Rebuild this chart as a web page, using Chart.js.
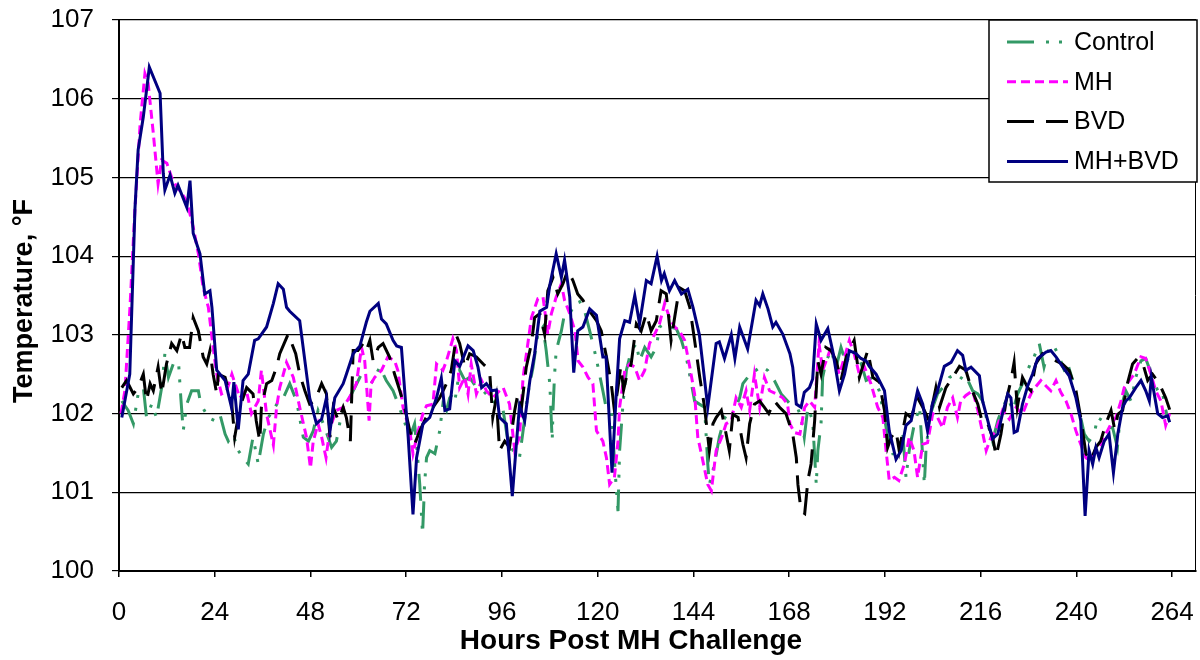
<!DOCTYPE html>
<html>
<head>
<meta charset="utf-8">
<script src="https://cdn.jsdelivr.net/npm/chart.js@4.4.1/dist/chart.umd.min.js"></script>
<style>
  html, body { margin: 0; padding: 0; background: #fff; }
  #wrap { width: 1200px; height: 660px; }
</style>
</head>
<body>
<div id="wrap"><canvas id="chart" width="1200" height="660"></canvas></div>
<script>
const xTicks = [0, 24, 48, 72, 96, 120, 144, 168, 192, 216, 240, 264];
const yTicks = [100, 101, 102, 103, 104, 105, 106, 107];
const xTitle = 'Hours Post MH Challenge';
const yTitle = 'Temperature, °F';

// Control
const controlHours = [0.7,2.3,3.6,4.8,6.1,6.9,8.2,9.4,10.7,11.5,12.4,13.6,14.9,15.5,16.1,17.0,18.2,19.9,20.5,22.4,24.0,25.3,26.6,27.4,28.6,29.9,31.1,32.4,33.6,34.9,36.2,37.4,38.7,40.0,41.2,42.8,44.5,46.2,47.5,48.7,49.9,51.6,53.3,54.5,55.8,57.0,58.7,60.4,62.0,63.2,65.4,67.0,68.7,70.0,71.2,72.9,74.1,74.6,75.4,76.1,76.6,77.1,77.9,79.2,80.4,81.2,82.1,82.9,83.7,84.2,85.4,86.7,87.9,89.6,91.3,92.9,94.6,96.3,97.5,98.8,100.4,101.3,102.5,103.8,105.0,106.3,107.1,108.0,108.6,108.8,109.2,109.6,110.9,111.7,113.0,114.3,115.5,116.7,118.0,119.2,120.1,121.3,122.1,123.4,124.6,125.1,125.5,126.4,127.2,128.4,129.7,130.5,131.8,133.4,134.7,135.5,136.8,138.0,139.7,141.0,142.2,143.5,144.3,145.5,146.8,147.6,148.0,149.3,150.5,151.8,153.0,154.3,155.6,156.4,157.6,158.5,159.7,161.0,162.6,164.3,166.0,167.6,168.9,170.2,171.0,171.8,172.7,173.9,174.8,175.2,176.0,176.4,177.3,178.5,179.8,181.0,182.3,183.5,184.8,186.1,187.3,189.0,190.6,191.9,192.7,194.0,195.2,196.5,197.3,198.1,199.4,200.7,201.5,201.9,202.3,203.2,204.0,205.2,206.5,208.2,209.8,211.5,212.3,214.0,215.3,216.5,217.8,219.0,220.3,221.5,222.8,224.1,225.3,226.5,227.8,228.6,229.4,230.7,231.9,233.2,234.4,235.7,237.0,238.2,239.5,240.7,242.0,243.2,244.5,245.3,246.6,247.8,249.1,250.3,251.2,252.4,253.7,254.9,256.2,257.4,259.1,260.4,261.5,262.8];
const controlTemps = [102.16,102.04,101.87,102.25,102.33,101.95,102.12,101.95,102.33,102.76,102.46,102.63,102.67,102.2,101.78,102.12,102.29,102.29,102.12,101.95,101.91,101.99,101.74,101.65,101.74,101.53,101.44,101.36,101.7,101.36,101.74,101.95,102.04,102.16,102.2,102.38,102.16,101.7,101.65,101.78,102.04,101.82,101.57,101.65,102.0,102.12,102.29,102.46,102.42,102.38,102.59,102.42,102.29,102.12,101.95,101.7,101.87,101.61,101.1,100.47,101.1,101.44,101.53,101.49,101.78,102.12,102.04,102.2,102.25,102.16,102.55,102.42,102.46,102.33,102.29,102.2,102.12,102.04,101.65,101.53,101.44,101.78,102.25,102.59,103.01,103.1,102.8,102.38,101.65,102.04,102.5,102.8,103.05,103.27,103.27,103.39,103.42,103.31,103.05,102.8,102.59,102.29,102.08,102.04,101.1,100.76,101.53,102.16,102.55,102.8,102.89,102.67,102.84,102.72,102.84,103.1,103.14,103.1,103.08,102.93,102.72,102.38,102.16,102.12,102.08,101.36,101.1,101.36,101.7,101.95,101.91,102.04,102.2,102.38,102.46,102.55,102.55,102.6,102.55,102.42,102.25,102.16,102.08,102.06,101.95,101.7,102.08,101.91,101.1,101.53,101.87,102.46,102.67,102.8,102.59,102.84,102.63,102.8,102.76,102.63,102.42,102.46,102.29,101.95,101.7,101.49,101.49,101.74,101.19,101.53,101.87,102.08,101.44,101.1,101.53,101.95,102.08,102.25,102.33,102.46,102.5,102.44,102.48,102.29,102.25,102.16,101.87,101.65,101.91,102.08,102.2,102.04,102.25,102.38,102.55,102.65,102.72,102.89,102.59,102.84,102.86,102.72,102.55,102.57,102.35,102.04,101.74,101.65,101.74,101.95,101.91,101.82,101.82,101.57,102.08,102.29,102.16,102.46,102.67,102.7,102.46,102.29,102.29,101.95];

// MH
const mhHours = [0.5,1.5,2.75,4.0,5.3,6.5,7.3,8.6,9.8,10.7,12.0,13.2,14.5,15.7,17.0,18.6,19.9,21.1,22.4,23.6,24.5,25.7,27.0,28.3,30.3,31.9,33.2,34.9,35.7,37.0,38.7,39.5,40.3,42.0,43.7,45.3,47.0,48.0,48.7,49.9,50.8,51.9,52.9,54.5,56.2,58.3,59.5,60.8,61.6,62.7,63.2,64.1,65.8,67.4,69.1,69.9,71.2,72.9,73.7,75.0,76.2,77.1,78.7,79.6,81.2,82.1,83.7,84.6,85.4,86.7,87.5,88.3,89.6,90.9,92.1,93.7,95.4,96.3,97.9,99.2,100.4,101.3,102.5,103.4,105.0,106.3,107.5,108.4,109.6,110.9,111.7,113.0,114.3,115.1,116.3,117.6,118.8,119.7,121.3,122.2,123.0,124.2,125.1,125.5,126.8,128.0,129.3,130.5,131.8,133.0,134.3,135.5,136.8,138.0,139.3,140.5,141.8,143.1,144.3,145.1,146.2,147.6,148.5,149.7,151.1,152.2,153.5,154.7,156.0,157.2,158.1,159.3,160.6,161.8,163.1,164.8,166.4,167.6,168.2,169.3,170.7,171.9,173.1,174.4,175.5,176.4,177.3,178.5,180.6,181.9,183.1,184.3,185.6,186.9,188.5,190.2,191.5,192.3,193.1,194.4,195.5,196.9,198.1,199.3,200.2,201.5,202.7,204.0,205.2,206.5,207.7,209.0,210.2,211.0,212.3,214.0,215.3,216.5,217.4,218.6,219.8,221.5,223.2,224.9,226.5,227.8,229.0,231.1,232.4,233.6,234.9,236.1,237.4,238.7,239.9,241.1,242.4,243.6,244.9,246.1,247.4,248.7,249.9,251.2,252.0,253.3,254.5,256.2,257.4,258.7,259.9,261.2,262.4,263.4];
const mhTemps = [102.0,102.3,103.35,104.6,105.68,106.32,106.2,105.56,104.92,105.22,105.18,105.0,104.88,104.8,104.7,104.37,104.03,103.6,103.35,102.84,102.5,102.25,102.29,102.5,102.2,102.3,102.0,102.16,102.55,101.99,101.6,102.08,102.33,102.65,102.46,102.08,101.7,101.31,101.65,101.87,101.7,101.44,101.82,102.04,102.08,102.25,102.38,102.84,102.67,101.91,102.38,102.46,102.55,102.72,102.67,102.55,102.08,101.78,101.49,101.78,102.0,102.1,102.12,102.63,102.55,102.67,102.95,102.8,102.33,102.46,102.25,102.63,102.25,102.42,102.29,102.2,102.29,102.33,102.12,101.53,101.7,102.46,102.89,103.22,103.46,103.48,103.01,103.27,103.48,103.65,103.44,103.27,103.05,102.67,102.59,102.46,102.38,101.78,101.65,101.44,101.1,101.19,101.65,102.08,102.55,102.63,102.59,102.42,102.55,102.89,103.01,103.14,103.4,103.22,103.1,103.05,102.93,102.59,102.25,101.7,101.44,101.1,101.02,101.53,101.7,101.87,101.91,102.2,102.08,102.29,102.04,102.5,102.08,102.46,102.29,102.25,102.2,102.12,101.87,101.76,101.74,102.08,102.16,102.08,102.89,102.55,102.67,102.84,102.5,102.72,102.93,102.76,102.5,102.59,102.38,102.08,101.95,101.53,101.15,101.19,101.15,101.36,101.7,101.53,101.19,101.61,101.63,102.0,101.95,101.82,102.08,102.2,101.95,102.16,102.23,102.29,102.04,101.76,101.53,101.7,101.78,102.04,101.93,102.08,101.99,102.16,102.29,102.42,102.35,102.29,102.42,102.27,102.16,101.99,101.78,101.61,101.44,101.4,101.55,101.61,101.74,101.87,101.95,102.16,102.33,102.42,102.5,102.72,102.7,102.5,102.29,102.16,101.85,102.0];

// BVD
const bvdHours = [0.7,1.9,3.6,4.8,6.1,6.9,7.8,8.6,9.8,10.7,11.9,13.2,14.5,15.7,16.5,17.7,18.6,19.9,21.1,22.0,22.8,23.6,24.5,24.9,26.6,28.2,29.0,30.3,32.0,33.6,34.4,35.3,35.7,37.0,38.3,39.5,40.3,42.4,44.3,45.3,46.6,47.8,49.1,50.8,52.0,52.9,53.7,55.0,56.2,57.0,58.0,58.7,59.9,61.2,62.0,62.9,63.7,65.0,66.2,67.8,69.1,70.4,71.6,72.9,74.1,75.4,77.0,78.7,80.4,82.1,83.3,84.6,85.4,86.7,87.9,89.6,91.3,92.9,93.7,94.6,95.4,96.7,97.9,99.2,100.0,100.9,102.1,103.4,104.2,105.5,106.7,107.5,108.8,110.0,111.3,112.5,113.8,115.0,116.3,118.0,119.7,120.9,122.2,123.4,124.2,125.0,125.8,126.5,127.2,128.4,129.7,130.9,132.2,133.4,134.7,135.9,137.2,138.4,139.3,140.5,141.8,143.1,144.3,145.6,146.8,148.0,148.9,149.7,151.0,152.2,153.0,153.9,155.2,156.4,157.2,158.1,159.3,160.6,161.8,162.9,164.3,165.6,167.2,168.9,169.8,170.2,171.0,171.9,172.7,173.5,174.4,175.2,176.0,177.2,178.5,179.8,181.0,182.3,184.3,185.6,187.7,189.0,190.6,191.9,192.7,193.6,194.8,195.6,197.3,198.6,200.2,201.5,203.1,204.8,205.7,207.3,209.0,210.7,212.3,213.6,215.3,216.5,217.8,219.0,219.9,221.1,222.4,223.6,224.4,225.2,226.5,227.8,228.6,229.8,231.5,233.2,234.9,236.5,238.2,239.9,241.1,242.4,243.6,244.9,246.1,247.4,248.7,249.6,250.4,251.6,252.8,254.1,255.3,256.6,257.9,259.1,260.8,262.4,263.4];
const bvdTemps = [102.33,102.42,102.25,102.33,102.5,102.16,102.38,102.29,102.59,102.25,102.63,102.89,102.8,103.01,102.84,102.84,103.22,103.05,102.72,102.63,102.8,102.5,102.25,102.5,102.46,102.16,101.7,102.08,102.33,102.25,101.91,101.65,102.08,102.38,102.42,102.59,102.76,103.01,102.76,102.5,102.29,102.12,102.16,102.38,102.25,101.7,102.08,101.91,102.08,101.95,101.65,102.8,102.8,102.89,102.8,102.93,102.67,102.84,102.89,102.72,102.5,102.29,102.08,101.78,101.61,101.78,101.95,102.08,102.2,102.38,102.55,102.99,102.89,102.59,102.76,102.72,102.63,102.55,101.95,102.2,101.53,101.65,101.57,102.04,102.25,102.08,102.59,102.89,103.22,103.27,103.01,103.56,103.73,103.52,103.65,103.82,103.69,103.52,103.44,103.3,103.18,103.05,102.72,102.38,102.04,102.3,102.6,102.3,102.46,102.63,103.14,103.05,103.27,103.05,103.18,103.56,103.52,102.93,103.22,103.6,103.56,103.35,102.93,102.46,102.08,101.53,101.87,101.95,102.04,101.74,101.53,101.99,101.95,101.61,101.44,101.87,102.12,102.16,102.08,102.0,102.16,102.08,102.0,101.74,101.44,101.1,100.76,100.73,101.15,101.36,101.91,102.67,102.5,102.84,102.8,102.67,102.42,102.72,102.93,102.46,102.8,102.46,102.4,102.04,101.57,101.7,101.78,101.53,102.0,101.95,102.2,102.08,101.91,102.33,102.08,102.33,102.46,102.6,102.55,102.33,102.12,101.87,101.87,101.7,101.46,101.74,102.16,102.42,102.65,102.08,102.46,102.33,102.29,102.63,102.76,102.72,102.67,102.63,102.55,102.29,101.95,101.49,101.4,101.57,101.65,101.87,102.04,101.8,101.99,102.04,102.38,102.63,102.7,102.65,102.42,102.5,102.38,102.2,102.05];

// MH+BVD
const mhbvdHours = [0.7,2.7,4.0,4.8,6.1,7.6,10.3,11.1,11.5,12.8,14.0,14.8,17.0,17.8,18.6,20.3,21.5,22.8,23.3,24.5,26.6,28.2,28.8,29.9,31.1,32.4,34.0,34.9,37.0,38.7,39.9,41.2,42.0,42.8,45.3,47.8,49.5,50.8,52.0,52.9,54.1,56.2,57.0,58.7,60.4,62.0,62.9,65.0,65.8,67.0,68.7,69.6,70.8,72.5,73.7,74.6,76.2,77.9,79.6,80.8,81.7,82.9,84.2,85.4,87.5,88.8,90.0,90.9,92.1,93.4,94.6,95.4,97.1,98.6,99.6,100.4,101.7,103.0,104.2,105.5,107.2,108.0,109.6,110.9,111.7,113.0,114.0,115.0,116.3,118.0,119.7,121.3,122.1,123.6,124.6,125.5,126.8,128.0,129.3,130.5,132.2,133.4,134.9,136.0,136.7,138.0,139.3,141.0,142.6,143.9,145.5,147.6,149.7,150.5,151.8,153.5,154.4,155.6,157.6,159.7,160.6,161.4,162.7,163.9,164.7,166.4,168.2,168.9,169.8,171.0,171.8,173.1,173.9,174.8,176.0,177.7,178.9,180.6,181.9,183.1,184.8,186.0,187.3,188.1,189.8,191.9,193.1,194.8,196.1,197.3,198.6,200.2,201.5,202.7,203.9,205.2,206.9,208.6,210.2,211.5,212.3,213.6,215.7,216.5,217.8,219.0,220.3,221.5,222.8,223.6,224.4,225.2,226.5,227.8,229.0,230.3,232.4,233.6,234.9,236.5,238.2,239.9,241.1,242.2,243.2,244.1,244.9,245.7,247.0,248.2,249.3,250.4,251.6,252.4,253.3,254.9,256.2,257.4,258.3,258.8,260.4,261.6,262.9,263.4];
const mhbvdTemps = [101.95,102.5,104.6,105.35,105.77,106.4,106.07,105.05,104.84,105.03,104.8,104.9,104.62,104.96,104.29,104.03,103.52,103.56,103.35,102.55,102.42,102.08,102.4,101.8,102.42,102.5,102.93,102.95,103.1,103.4,103.65,103.58,103.35,103.3,103.18,102.2,101.87,101.93,102.2,101.78,102.2,102.38,102.5,102.76,102.86,103.16,103.3,103.4,103.2,103.14,102.93,102.86,102.84,101.7,100.72,101.44,101.87,101.95,102.2,102.45,102.04,102.06,102.67,102.6,102.86,102.8,102.59,102.33,102.38,102.29,102.3,101.95,101.87,100.95,101.6,102.1,101.91,102.42,102.76,103.3,103.35,103.63,104.03,103.73,103.95,103.48,102.52,103.05,103.1,103.33,103.25,102.72,102.72,101.25,102.2,102.95,103.18,103.16,103.5,103.14,103.69,103.65,104.0,103.69,103.78,103.56,103.69,103.52,103.58,103.35,103.0,102.08,102.89,102.91,102.7,103.0,102.7,103.1,102.82,103.44,103.37,103.52,103.33,103.1,103.16,103.01,102.76,102.59,102.12,102.08,102.27,102.33,102.44,103.14,102.93,103.08,102.8,102.29,102.5,102.8,102.76,102.7,102.67,102.6,102.5,102.29,101.78,101.42,101.53,101.85,101.91,102.29,102.12,101.78,102.12,102.29,102.6,102.65,102.8,102.74,102.55,102.59,102.48,102.16,101.91,101.68,101.74,102.0,102.25,102.2,101.76,101.78,102.12,102.35,102.5,102.7,102.78,102.8,102.72,102.6,102.48,102.2,101.91,100.7,101.53,101.36,101.57,101.44,101.65,101.74,101.25,101.74,102.08,102.16,102.2,102.33,102.42,102.29,102.16,102.46,102.0,101.95,101.97,101.89];

const FONT = "'Liberation Sans', Arial, sans-serif";

function points(hours, temps) {
  return hours.map((h, i) => ({ x: h, y: temps[i] }));
}

const series = [
  { label: 'Control', hours: controlHours, temps: controlTemps, color: '#339966', dash: [27, 12, 3, 10, 3, 11], order: 3 },
  { label: 'MH', hours: mhHours, temps: mhTemps, color: '#ff00ff', dash: [9, 5], order: 2 },
  { label: 'BVD', hours: bvdHours, temps: bvdTemps, color: '#000000', dash: [27, 12], order: 1 },
  { label: 'MH+BVD', hours: mhbvdHours, temps: mhbvdTemps, color: '#000080', dash: [], order: 0 }
];

// axis titles sit a bit off-centre in the original, so they are drawn here
const axisTitles = {
  id: 'axisTitles',
  afterDraw(chart) {
    const ctx = chart.ctx;
    ctx.save();
    ctx.fillStyle = '#000';
    ctx.font = 'bold 28px ' + FONT;
    ctx.textAlign = 'center';
    ctx.textBaseline = 'alphabetic';
    ctx.fillText(xTitle, 631, 649);
    ctx.translate(25, 301);
    ctx.rotate(-Math.PI / 2);
    ctx.font = 'bold 27px ' + FONT;
    ctx.textBaseline = 'middle';
    ctx.fillText(yTitle, 0, 0);
    ctx.restore();
  }
};

// legend box drawn like the excel one, on top of the plot
const legendBox = {
  id: 'legendBox',
  afterDraw(chart) {
    const ctx = chart.ctx;
    const bx = 989, by = 20, bw = 208, bh = 162;
    ctx.save();
    ctx.fillStyle = '#fff';
    ctx.fillRect(bx, by, bw, bh);
    ctx.strokeStyle = '#000';
    ctx.lineWidth = 1.5;
    ctx.strokeRect(bx, by, bw, bh);
    ctx.font = '25px ' + FONT;
    ctx.textBaseline = 'middle';
    series.forEach((s, i) => {
      const ly = 42 + i * 39.8;
      ctx.beginPath();
      ctx.setLineDash(s.dash);
      ctx.strokeStyle = s.color;
      ctx.lineWidth = 3;
      ctx.moveTo(1007, ly);
      ctx.lineTo(1068, ly);
      ctx.stroke();
      ctx.setLineDash([]);
      ctx.fillStyle = '#000';
      ctx.fillText(s.label, 1074, ly + 1);
    });
    ctx.restore();
  }
};

// right edge of the plot area
const frame = {
  id: 'frame',
  beforeDatasetsDraw(chart) {
    const { ctx, chartArea } = chart;
    ctx.save();
    ctx.strokeStyle = '#000';
    ctx.lineWidth = 1;
    ctx.beginPath();
    ctx.moveTo(chartArea.right - 0.5, chartArea.top);
    ctx.lineTo(chartArea.right - 0.5, chartArea.bottom);
    ctx.stroke();
    ctx.restore();
  }
};

new Chart(document.getElementById('chart'), {
  type: 'line',
  data: {
    datasets: series.map(s => ({
      label: s.label,
      data: points(s.hours, s.temps),
      borderColor: s.color,
      backgroundColor: s.color,
      borderDash: s.dash,
      borderWidth: 3,
      pointRadius: 0,
      tension: 0,
      fill: false,
      order: s.order
    }))
  },
  options: {
    responsive: false,
    animation: false,
    devicePixelRatio: 1,
    layout: { padding: { top: 20, right: 4, left: 0, bottom: 0 } },
    plugins: {
      legend: { display: false },
      tooltip: { enabled: false }
    },
    scales: {
      x: {
        type: 'linear',
        min: 0,
        max: 270,
        afterBuildTicks: (scale) => { scale.ticks = xTicks.map(v => ({ value: v })); },
        afterFit: (scale) => { scale.height = 89; scale.paddingLeft = 0; scale.paddingRight = 0; },
        ticks: { color: '#000', font: { family: FONT, size: 26 }, padding: 20, maxRotation: 0, autoSkip: false },
        grid: { display: true, drawOnChartArea: false, drawTicks: true, tickLength: 6, color: '#000', lineWidth: 1.5 },
        border: { display: true, color: '#000', width: 2 },
        title: { display: false }
      },
      y: {
        min: 100,
        max: 107,
        afterBuildTicks: (scale) => { scale.ticks = yTicks.map(v => ({ value: v })); },
        afterFit: (scale) => { scale.width = 119; scale.paddingTop = 0; scale.paddingBottom = 0; },
        ticks: { color: '#000', font: { family: FONT, size: 26 }, padding: 18 },
        grid: { color: '#000', lineWidth: 1.2, drawTicks: true, tickLength: 7 },
        border: { display: true, color: '#000', width: 2 },
        title: { display: false }
      }
    }
  },
  plugins: [frame, axisTitles, legendBox]
});
</script>
</body>
</html>
